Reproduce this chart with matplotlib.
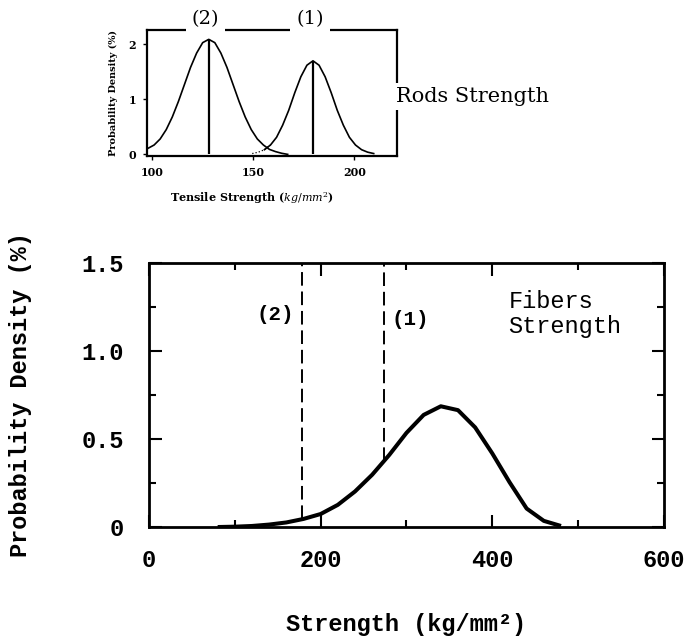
import matplotlib
matplotlib.use("Agg")
import matplotlib.pyplot as plt
import numpy as np

plt.rcParams['mathtext.fontset'] = 'dejavuserif'

# --- main plot: fibers strength distribution ---
fiber_x = [80, 100, 120, 140, 160, 180, 200, 220, 240, 260, 280, 300,
           320, 340, 360, 380, 400, 420, 440, 460, 480]
fiber_y = [0.0, 0.002, 0.006, 0.014, 0.026, 0.046, 0.074, 0.126, 0.202, 0.297, 0.41, 0.535,
           0.637, 0.686, 0.664, 0.566, 0.418, 0.255, 0.105, 0.035, 0.006]
rod_marks = [178, 274]          # dashed lines (2) and (1)
rod_mark_labels = ['(2)', '(1)']

# --- inset: rods strength distributions ---
rod2_x = [98, 101, 104, 107, 110, 113, 116, 119, 122, 125, 128, 131, 134, 137,
          140, 143, 146, 149, 152, 155, 158, 161, 164, 167]
rod2_y = [0.11, 0.17, 0.28, 0.45, 0.68, 0.96, 1.27, 1.58, 1.84, 2.03, 2.09, 2.03, 1.84, 1.58,
          1.27, 0.96, 0.68, 0.45, 0.28, 0.17, 0.09, 0.05, 0.02, 0.0]
rod1_x = [149.5, 152.5, 155.5, 158.5, 161.5, 164.5, 167.5, 170.5, 173.5, 176.5, 179.5,
          182.5, 185.5, 188.5, 191.5, 194.5, 197.5, 200.5, 203.5, 206.5, 209.5]
rod1_y = [0.015, 0.04, 0.085, 0.17, 0.31, 0.53, 0.80, 1.12, 1.41, 1.62, 1.70,
          1.62, 1.41, 1.12, 0.80, 0.53, 0.31, 0.17, 0.085, 0.04, 0.015]
rod_peaks_x = [128, 179.5]
rod_peaks_y = [2.09, 1.70]
rod_labels = ['(2)', '(1)']
cross_x = 156.5

mono = 'Liberation Mono'
serif = 'DejaVu Serif'

fig = plt.figure(figsize=(6.86, 6.41), dpi=100)

# Main axes
ax = fig.add_axes([0.2172, 0.1778, 0.7507, 0.4119])
ax.plot(fiber_x, fiber_y, color='black', lw=2.9, solid_capstyle='butt')
for xm, lab in zip(rod_marks, rod_mark_labels):
    ybot = np.interp(xm, fiber_x, fiber_y)
    ax.vlines(xm, ybot, 1.5, colors='black', linestyles=(0, (7, 3)), lw=1.4)
ax.text(147, 1.21, rod_mark_labels[0], ha='center', va='center',
        family=mono, fontweight='bold', fontsize=15)
ax.text(304, 1.18, rod_mark_labels[1], ha='center', va='center',
        family=mono, fontweight='bold', fontsize=15)
ax.text(419, 1.21, 'Fibers\nStrength', ha='left', va='center',
        family=mono, fontsize=17, linespacing=1.1)

ax.set_xlim(0, 600)
ax.set_ylim(0, 1.5)
ax.set_xticks([0, 200, 400, 600])
ax.set_xticks([100, 300, 500], minor=True)
ax.set_yticks([0, 0.5, 1.0, 1.5])
ax.set_yticklabels(['0', '0.5', '1.0', '1.5'])
ax.set_yticks([0.25, 0.75, 1.25], minor=True)
ax.tick_params(which='both', direction='in', top=True, right=True, width=1.5)
ax.tick_params(which='major', length=9)
ax.tick_params(which='minor', length=5)
ax.tick_params(axis='x', pad=16)
ax.tick_params(axis='y', pad=18)
for lab in ax.get_xticklabels() + ax.get_yticklabels():
    lab.set_family(mono)
    lab.set_fontweight('bold')
    lab.set_fontsize(17)
for sp in ax.spines.values():
    sp.set_linewidth(2)
ax.set_xlabel('Strength (kg/mm²)', family=mono, fontweight='bold', fontsize=17, va='center')
ax.xaxis.set_label_coords(0.5, -0.371)
ax.set_ylabel('Probability Density (%)', family=mono, fontweight='bold', fontsize=17,
              va='center')
ax.yaxis.set_label_coords(-0.25, 0.5)

# Inset axes
ins = fig.add_axes([0.2143, 0.7566, 0.3644, 0.1966])
ins.plot(rod2_x, rod2_y, color='black', lw=1.2)
rod1_x = np.array(rod1_x)
rod1_y = np.array(rod1_y)
dot = rod1_x <= cross_x + 2
sol = rod1_x >= cross_x - 1
ins.plot(rod1_x[dot], rod1_y[dot], color='black', lw=0.9, ls=':')
ins.plot(rod1_x[sol], rod1_y[sol], color='black', lw=1.2)
ins.vlines(rod_peaks_x, 0, rod_peaks_y, colors='black', lw=1.6)

ins.set_xlim(97.5, 221)
ins.set_ylim(-0.03, 2.26)
ins.set_xticks([100, 150, 200])
ins.set_yticks([0, 1, 2])
ins.tick_params(length=3, width=1, pad=5)
for lab in ins.get_xticklabels() + ins.get_yticklabels():
    lab.set_family(serif)
    lab.set_fontweight('bold')
    lab.set_fontsize(8)
for sp in ins.spines.values():
    sp.set_linewidth(1.6)
ins.set_xlabel('Tensile Strength ($kg/mm^2$)', family=serif, fontweight='bold', fontsize=8,
               va='center')
ins.xaxis.set_label_coords(0.42, -0.333)
ins.set_ylabel('Probability Density (%)', family=serif, fontweight='bold', fontsize=7,
               va='center')
ins.yaxis.set_label_coords(-0.135, 0.5)

for px, lab in zip(rod_peaks_x, rod_labels):
    ins.annotate(lab, xy=(px - 1.5, 1.09), xycoords=('data', 'axes fraction'),
                 ha='center', va='center', family=serif, fontsize=14,
                 bbox=dict(boxstyle='square,pad=0.3', fc='white', ec='none'),
                 annotation_clip=False, zorder=5)
ins.annotate('Rods Strength', xy=(1.0, 0.47), xycoords='axes fraction',
             xytext=(-1, 0), textcoords='offset points',
             ha='left', va='center', family=serif, fontsize=15,
             bbox=dict(boxstyle='square,pad=0.2', fc='white', ec='none'),
             annotation_clip=False, zorder=5)

fig.savefig('out.png', dpi=100)
